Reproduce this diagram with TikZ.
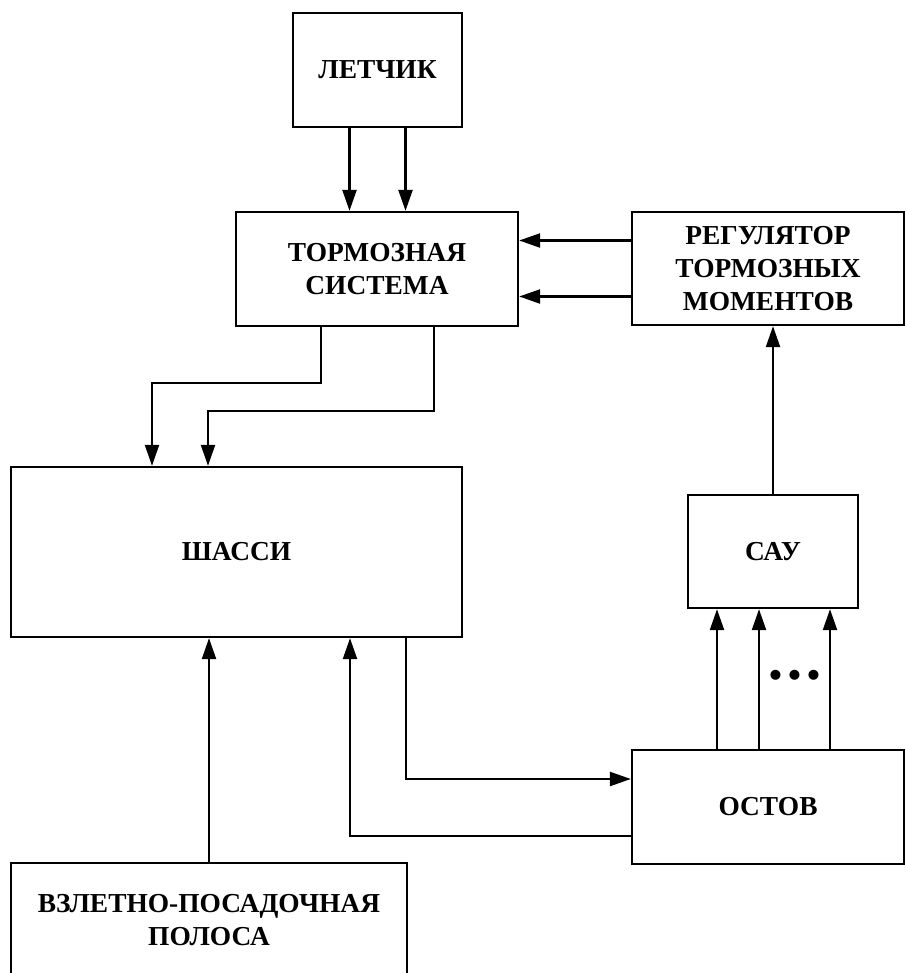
\documentclass[tikz,border=0pt]{standalone}
\usepackage{fontspec}
\setmainfont{Liberation Serif}
\usetikzlibrary{arrows.meta,positioning,calc}
\tikzset{
  box/.style={draw, rectangle, align=center, line width=1.3pt, inner sep=2pt, fill=white, font=\fontsize{15.6}{19}\selectfont\bfseries},
  arr/.style={-{Triangle[length=4.2mm,width=2.8mm]}, line width=1.3pt},
}
\begin{document}
\begin{tikzpicture}[x=1cm,y=1cm]
\useasboundingbox (0,0) rectangle (18.10,-19.46);
\begin{scope}
\clip (0,0) rectangle (18.10,-19.46);
% top
\node[box, minimum width=3.38cm, minimum height=2.28cm] (let) at (7.55,-1.40) {ЛЕТЧИК};
\node[box, minimum width=5.64cm, minimum height=2.28cm] (tor) at (7.54,-5.38) {ТОРМОЗНАЯ\\СИСТЕМА};
\node[box, minimum width=5.44cm, minimum height=2.26cm] (reg) at (15.36,-5.37) {РЕГУЛЯТОР\\ТОРМОЗНЫХ\\МОМЕНТОВ};
% middle
\node[box, minimum width=9.02cm, minimum height=3.40cm] (sha) at (4.73,-11.04) {ШАССИ};
\node[box, minimum width=3.40cm, minimum height=2.26cm] (sau) at (15.46,-11.03) {САУ};
% bottom
\node[box, minimum width=5.44cm, minimum height=2.28cm] (ost) at (15.36,-16.14) {ОСТОВ};
\node[box, minimum width=7.92cm, minimum height=2.28cm] (vpp) at (4.18,-18.40) {ВЗЛЕТНО-ПОСАДОЧНАЯ\\ПОЛОСА};
\node[font=\fontsize{21}{21}\selectfont\bfseries] (dots) at (15.90,-13.58) {\textbullet\,\textbullet\,\textbullet};
\draw[arr] ([xshift=-0.56cm]let.south) -- ([xshift=-0.56cm]let.south |- tor.north);
\draw[arr] ([xshift=0.56cm]let.south) -- ([xshift=0.56cm]let.south |- tor.north);
\draw[arr] ([yshift=0.56cm]reg.west) -- ([yshift=0.56cm]reg.west -| tor.east);
\draw[arr] ([yshift=-0.56cm]reg.west) -- ([yshift=-0.56cm]reg.west -| tor.east);
\draw[arr] ([xshift=-1.12cm]tor.south) -- ++(0,-1.12) -| ([xshift=-1.69cm]sha.north);
\draw[arr] ([xshift=1.14cm]tor.south) -- ++(0,-1.68) -| ([xshift=-0.57cm]sha.north);
\draw[arr] (sau.north) -- (sau.north |- reg.south);
\foreach \dx in {-1.12,-0.28,1.14}
  \draw[arr] ([xshift=\dx cm]sau.south |- ost.north) -- ([xshift=\dx cm]sau.south);
\draw[arr] ([xshift=3.39cm]sha.south) |- ([yshift=0.56cm]ost.west);
\draw[arr] ([yshift=-0.58cm]ost.west) -| ([xshift=2.27cm]sha.south);
\draw[arr] (vpp.north) -- (vpp.north |- sha.south);
\end{scope}
\end{tikzpicture}
\end{document}
